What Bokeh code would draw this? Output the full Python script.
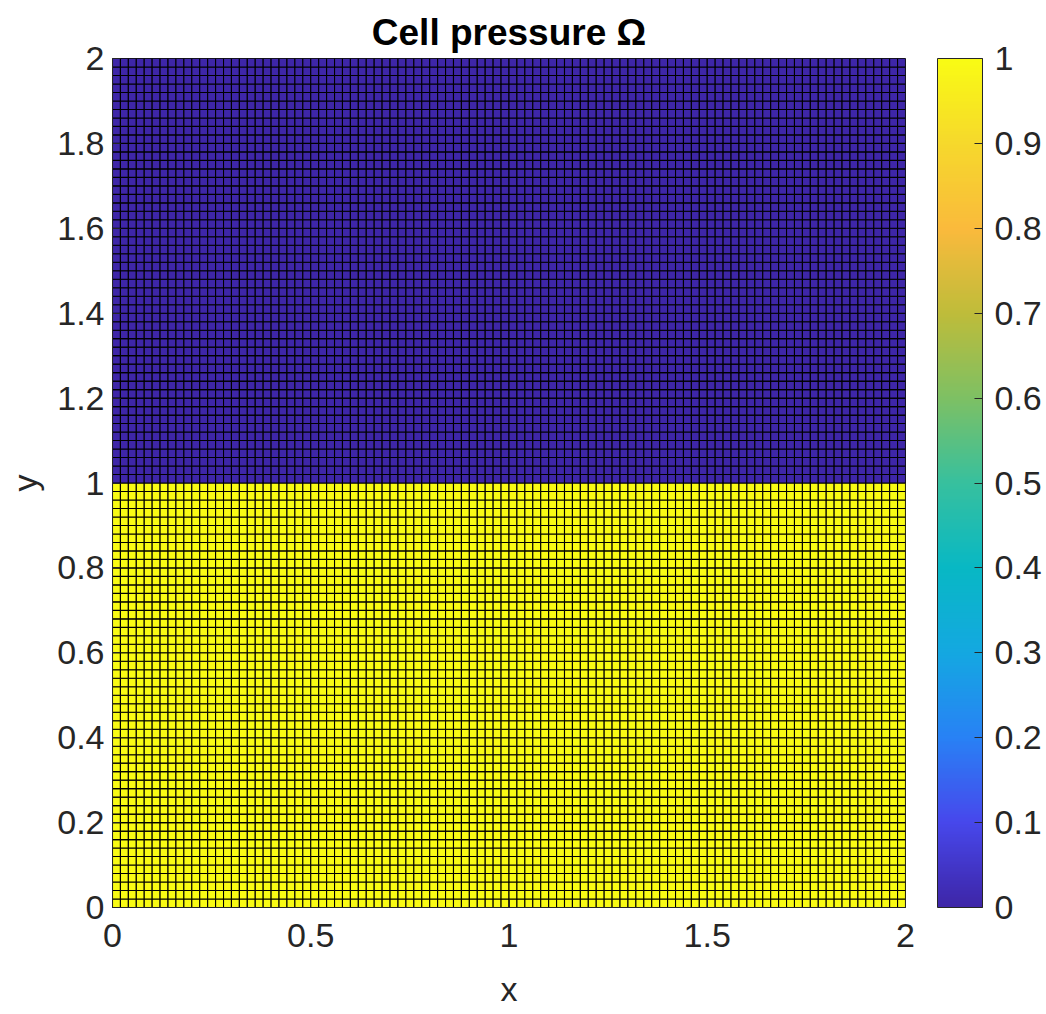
from bokeh.plotting import figure
from bokeh.models import (ColumnDataSource, LinearColorMapper, ColorBar, FixedTicker,
                          Range1d)
from bokeh.embed import file_html
from bokeh.resources import INLINE

# ---- data ----
n_cols = 100
n_rows = 100
cell_size = 0.02
# one value per row of cells, bottom row first
row_values = [1.0] * 50 + [0.0] * 50

x_ticks = [0, 0.5, 1, 1.5, 2]
x_tick_labels = ["0", "0.5", "1", "1.5", "2"]
y_ticks = [0, 0.2, 0.4, 0.6, 0.8, 1, 1.2, 1.4, 1.6, 1.8, 2]
y_tick_labels = ["0", "0.2", "0.4", "0.6", "0.8", "1", "1.2", "1.4", "1.6", "1.8", "2"]
cb_ticks = [0, 0.1, 0.2, 0.3, 0.4, 0.5, 0.6, 0.7, 0.8, 0.9, 1]
cb_tick_labels = ["0", "0.1", "0.2", "0.3", "0.4", "0.5", "0.6", "0.7", "0.8", "0.9", "1"]

# ---- parula-like palette ----
anchors = [
    (0.00, (62, 38, 168)),
    (0.10, (71, 72, 236)),
    (0.20, (40, 130, 245)),
    (0.30, (20, 168, 225)),
    (0.40, (8, 184, 196)),
    (0.50, (55, 192, 158)),
    (0.60, (125, 192, 100)),
    (0.70, (190, 188, 58)),
    (0.80, (250, 186, 60)),
    (0.90, (246, 216, 44)),
    (1.00, (249, 251, 20)),
]
palette = []
for i in range(256):
    t = i / 255
    for k in range(len(anchors) - 1):
        t0, c0 = anchors[k]
        t1, c1 = anchors[k + 1]
        if t0 <= t <= t1:
            f = (t - t0) / (t1 - t0)
            c = tuple(int(round(c0[j] + (c1[j] - c0[j]) * f)) for j in range(3))
            palette.append("#%02x%02x%02x" % c)
            break

mapper = LinearColorMapper(palette=palette, low=0, high=1)

xs, ys, vs = [], [], []
for r in range(n_rows):
    for c in range(n_cols):
        xs.append((c + 0.5) * cell_size)
        ys.append((r + 0.5) * cell_size)
        vs.append(row_values[r])
src = ColumnDataSource(dict(x=xs, y=ys, v=vs))

FONT = "Liberation Sans"
p = figure(width=1046, height=1014, output_backend="svg", toolbar_location=None,
           x_range=Range1d(0, 2), y_range=Range1d(0, 2),
           min_border_left=112, min_border_right=141, min_border_top=58, min_border_bottom=107)
p.rect(x="x", y="y", width=cell_size, height=cell_size, source=src,
       fill_color={"field": "v", "transform": mapper}, line_color="black", line_width=1.1,
       line_alpha=1.0)

p.title.text = "Cell pressure Ω"
p.title.align = "center"
p.title.text_font = FONT
p.title.text_font_size = "37px"
p.title.text_font_style = "bold"
p.title.text_color = "black"
p.title.standoff = 12

p.grid.visible = False
p.outline_line_color = "#262626"
p.outline_line_width = 1

for ax, ticks, labels, lab in ((p.xaxis[0], x_ticks, x_tick_labels, "x"),
                               (p.yaxis[0], y_ticks, y_tick_labels, "y")):
    ax.ticker = FixedTicker(ticks=ticks)
    ax.major_label_overrides = {t: l for t, l in zip(ticks, labels)}
    ax.major_tick_in = 8
    ax.major_tick_out = 0
    ax.minor_tick_line_color = None
    ax.major_tick_line_color = "#262626"
    ax.axis_line_color = "#262626"
    ax.major_label_text_font = FONT
    ax.major_label_text_font_size = "34px"
    ax.major_label_text_color = "#262626"
    ax.axis_label = lab
    ax.axis_label_text_font = FONT
    ax.axis_label_text_font_size = "34px"
    ax.axis_label_text_font_style = "normal"
    ax.axis_label_text_color = "#262626"

p.xaxis[0].major_label_standoff = 16
p.xaxis[0].axis_label_standoff = 20
p.yaxis[0].major_label_standoff = 8
p.yaxis[0].axis_label_standoff = 10

cb = ColorBar(color_mapper=mapper, location=(32, 0), width=45, height=849,
              padding=0, margin=0,
              ticker=FixedTicker(ticks=cb_ticks),
              major_label_overrides={t: l for t, l in zip(cb_ticks, cb_tick_labels)},
              major_label_text_font=FONT, major_label_text_font_size="34px",
              major_label_text_color="#262626",
              major_tick_in=8, major_tick_out=0, major_tick_line_color="#262626",
              minor_tick_line_color=None,
              bar_line_color="#262626", bar_line_width=1,
              background_fill_color=None, border_line_color=None, label_standoff=12)
p.add_layout(cb, "right")

open("out.html", "w").write(file_html(p, INLINE))
